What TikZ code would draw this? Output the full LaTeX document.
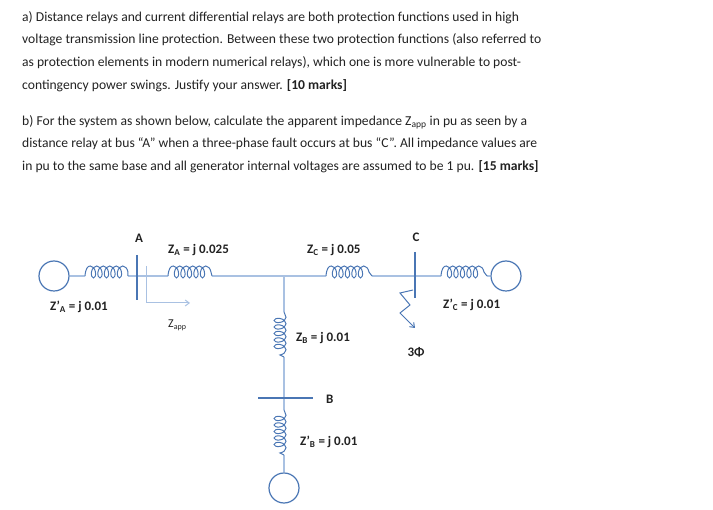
\documentclass[tikz,border=0pt]{standalone}
\usepackage{fontspec}
\setmainfont{Carlito}
\usetikzlibrary{decorations.pathmorphing,arrows.meta}
\definecolor{ln}{HTML}{A9C1E2}
\definecolor{dk}{HTML}{4A76B4}
\definecolor{tx}{HTML}{222222}
\begin{document}
\begin{tikzpicture}[x=1pt,y=-1pt,
  wire/.style={ln,line width=1.2pt},
  bus/.style={dk,line width=2pt},
  coilh/.style={dk,line width=1pt,decorate,decoration={coil,aspect=0.6,segment length=6.5pt,amplitude=6pt,raise=4pt}},
  coilv/.style={dk,line width=1pt,decorate,decoration={coil,aspect=0.6,segment length=6.5pt,amplitude=6pt,raise=-4pt}},
  gen/.style={circle,draw=dk,line width=1.2pt,minimum size=30pt,inner sep=0pt},
  lab/.style={font=\bfseries\fontsize{13}{14}\selectfont,text=tx,inner sep=0pt,anchor=west},
  para/.style={font=\fontsize{13.6}{22.7}\selectfont,text=tx,inner sep=0pt,anchor=north west,align=left}]
\useasboundingbox (0,0) rectangle (713,510);
\node[para] (p1) at (22,11) {a) Distance relays and current differential relays are both protection functions used in high\\voltage transmission line protection. Between these two protection functions (also referred to\\as protection elements in modern numerical relays), which one is more vulnerable to post-\\contingency power swings. Justify your answer. \textbf{[10 marks]}};
\node[para] (p2) at (22,115) {b) For the system as shown below, calculate the apparent impedance Z\textsubscript{app} in pu as seen by a\\distance relay at bus “A” when a three-phase fault occurs at bus “C”. All impedance values are\\in pu to the same base and all generator internal voltages are assumed to be 1 pu. \textbf{[15 marks]}};
% generators
\node[gen] (gA) at (54,276) {};
\node[gen] (gC) at (506,276) {};
\node[gen] (gB) at (284,488) {};
% coordinates
\coordinate (a1) at (85,276); \coordinate (a2) at (128,276);
\coordinate (b1) at (168,276); \coordinate (b2) at (212,276);
\coordinate (J) at (284,276);
\coordinate (c1) at (326,276); \coordinate (c2) at (372,276);
\coordinate (d1) at (441,276); \coordinate (d2) at (487,276);
\coordinate (v1) at (284,312); \coordinate (v2) at (284,357);
\coordinate (BB) at (284,398);
\coordinate (w1) at (284,410); \coordinate (w2) at (284,455);
% wires
\draw[wire] (gA.east) -- (a1) (a2) -- (b1) (b2) -- (c1) (c2) -- (d1) (d2) -- (gC.west);
\draw[wire] (J) -- (v1) (v2) -- (w1) (w2) -- (gB.north);
% coils
\draw[coilh] (a1) -- (a2);
\draw[coilh] (b1) -- (b2);
\draw[coilh] (c1) -- (c2);
\draw[coilh] (d1) -- (d2);
\draw[coilv] (v1) -- (v2);
\draw[coilv] (w1) -- (w2);
% buses
\draw[bus] (137,255) -- (137,300);
\draw[bus] (415,252) -- (415,298);
\draw[bus] (258,398) -- (313,398);
% relay
\coordinate (r0) at (146,266); \coordinate (r1) at (146,303); \coordinate (r2) at (190,303);
\draw[ln,line width=1pt,-{Straight Barb[length=4pt,width=6pt]}] (r0) -- (r1) -- (r2);
% fault
\coordinate (f0) at (413,290);
\coordinate (f4) at (415,328);
\draw[dk,line width=1pt,-{Straight Barb[length=4pt,width=6pt]}] (f0) -- (400,293) -- (410,305) -- (400,313) -- (f4);
% labels
\node[lab,anchor=center] (lA) at (139,238) {A};
\node[lab] (lZA) at (168,250) {Z\textsubscript{A} = j 0.025};
\node[lab] (lZC) at (307,250) {Z\textsubscript{C} = j 0.05};
\node[lab,anchor=center] (lC) at (416,237) {C};
\node[lab] (lZA2) at (50,307) {Z’\textsubscript{A} = j 0.01};
\node[lab,font=\fontsize{12}{13}\selectfont] (lZapp) at (168,325) {Z\textsubscript{app}};
\node[lab] (lZB) at (296,338) {Z\textsubscript{B} = j 0.01};
\node[lab,anchor=center] (l3) at (416,352) {3Φ};
\node[lab] (lZC2) at (443,305) {Z’\textsubscript{C} = j 0.01};
\node[lab] (lB) at (326,399) {B};
\node[lab] (lZB2) at (300,442) {Z’\textsubscript{B} = j 0.01};
\end{tikzpicture}
\end{document}
